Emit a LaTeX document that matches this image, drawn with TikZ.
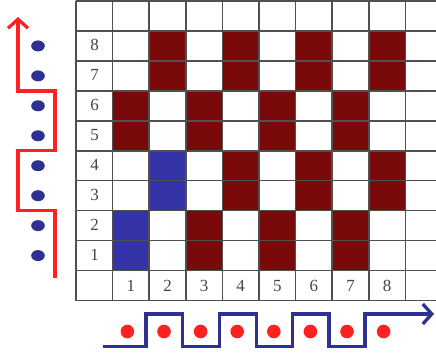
\documentclass[tikz,border=0pt]{standalone}
\usepackage{fontspec}
\setmainfont{Liberation Serif}
\usetikzlibrary{arrows.meta}
\definecolor{maroon}{RGB}{122,10,10}
\definecolor{cellblue}{RGB}{52,52,168}
\definecolor{dotblue}{RGB}{46,49,146}
\definecolor{linered}{RGB}{255,32,32}
\definecolor{gridc}{RGB}{80,80,80}
\definecolor{numc}{RGB}{70,70,70}
\begin{document}
\begin{tikzpicture}[x=1pt,y=-1pt,
  gridline/.style={draw=gridc,line width=1.5pt},
  redcell/.style={fill=maroon},
  bluecell/.style={fill=cellblue},
  numlabel/.style={text=numc,font=\fontsize{17}{20}\selectfont,inner sep=0pt},
  weftpath/.style={draw=linered,line width=3.3pt,line join=miter},
  warppath/.style={draw=dotblue,line width=3.3pt,line join=miter},
  bluedot/.style={fill=dotblue},
  reddot/.style={fill=linered},
  tiphead/.style={-{Straight Barb[length=9pt,width=20pt,line width=3.3pt]}}]
\useasboundingbox (0,0) rectangle (436,354);
\clip (0,0) rectangle (436,354);
\pgfmathsetmacro{\cw}{36.6}
\pgfmathsetmacro{\rh}{29.95}
% white background
\fill[white] (0,0) rectangle (436,354);
% cells
\foreach \r in {1,...,8}{
  \foreach \c in {1,...,8}{
    \pgfmathtruncatemacro{\p}{ceil(\r/2)}
    \pgfmathtruncatemacro{\odd}{mod(\p,2)}
    \pgfmathtruncatemacro{\codd}{mod(\c,2)}
    \pgfmathsetmacro{\xa}{76+\cw*\c}
    \pgfmathsetmacro{\ya}{1+\rh*(9-\r)}
    \ifnum\odd=\codd
      \pgfmathtruncatemacro{\isblue}{(\p==1 && \c==1) || (\p==2 && \c==2)}
      \ifnum\isblue=1
        \fill[bluecell] (\xa,\ya) rectangle ++(\cw,\rh);
      \else
        \fill[redcell] (\xa,\ya) rectangle ++(\cw,\rh);
      \fi
    \fi
  }
}
% grid lines
\foreach \k in {0,...,10}{
  \draw[gridline] (76+\cw*\k,1) -- (76+\cw*\k,300.5);
  \draw[gridline] (76,1+\rh*\k) -- (442,1+\rh*\k);
}
% row labels
\foreach \r in {1,...,8}{
  \node[numlabel] (row\r) at (94.5,{1+\rh*(9-\r)+\rh/2-0.5}) {\r};
}
% column labels
\foreach \c in {1,...,8}{
  \node[numlabel] (col\c) at ({76+\cw*\c+\cw/2},{1+\rh*9+\rh/2}) {\c};
}
% blue dots on the left
\foreach \r in {1,...,8}{
  \fill[bluedot] (38,{1+\rh*(9-\r)+\rh/2}) ellipse [x radius=6.8,y radius=5.5];
}
% red weft path (left)
\coordinate (w0) at (55,278);
\coordinate (w1) at (55,210.7);
\coordinate (w2) at (18,210.7);
\coordinate (w3) at (18,150.8);
\coordinate (w4) at (55,150.8);
\coordinate (w5) at (55,90.9);
\coordinate (w6) at (18,90.9);
\coordinate (w7) at (18,17);
\draw[weftpath,tiphead] (w0) -- (w1) -- (w2) -- (w3) -- (w4) -- (w5) -- (w6) -- (w7);
% red dots at bottom
\foreach \c in {1,...,8}{
  \fill[reddot] ({76+\cw*\c+\cw/2-3.5},331.5) circle (6.8);
}
% blue warp path (bottom)
\coordinate (b0) at (102.5,346.5);
\coordinate (b1) at (146,346.5);
\coordinate (b2) at (146,314);
\coordinate (b3) at (182.3,314);
\coordinate (b4) at (182.3,346.5);
\coordinate (b5) at (219.5,346.5);
\coordinate (b6) at (219.5,314);
\coordinate (b7) at (256.5,314);
\coordinate (b8) at (256.5,346.5);
\coordinate (b9) at (292.5,346.5);
\coordinate (b10) at (292.5,314);
\coordinate (b11) at (329,314);
\coordinate (b12) at (329,346.5);
\coordinate (b13) at (365,346.5);
\coordinate (b14) at (365,314);
\coordinate (b15) at (434,314);
\draw[warppath,tiphead] (b0) -- (b1) -- (b2) -- (b3) -- (b4) -- (b5) -- (b6) -- (b7) -- (b8) -- (b9) -- (b10) -- (b11) -- (b12) -- (b13) -- (b14) -- (b15);
\end{tikzpicture}
\end{document}
